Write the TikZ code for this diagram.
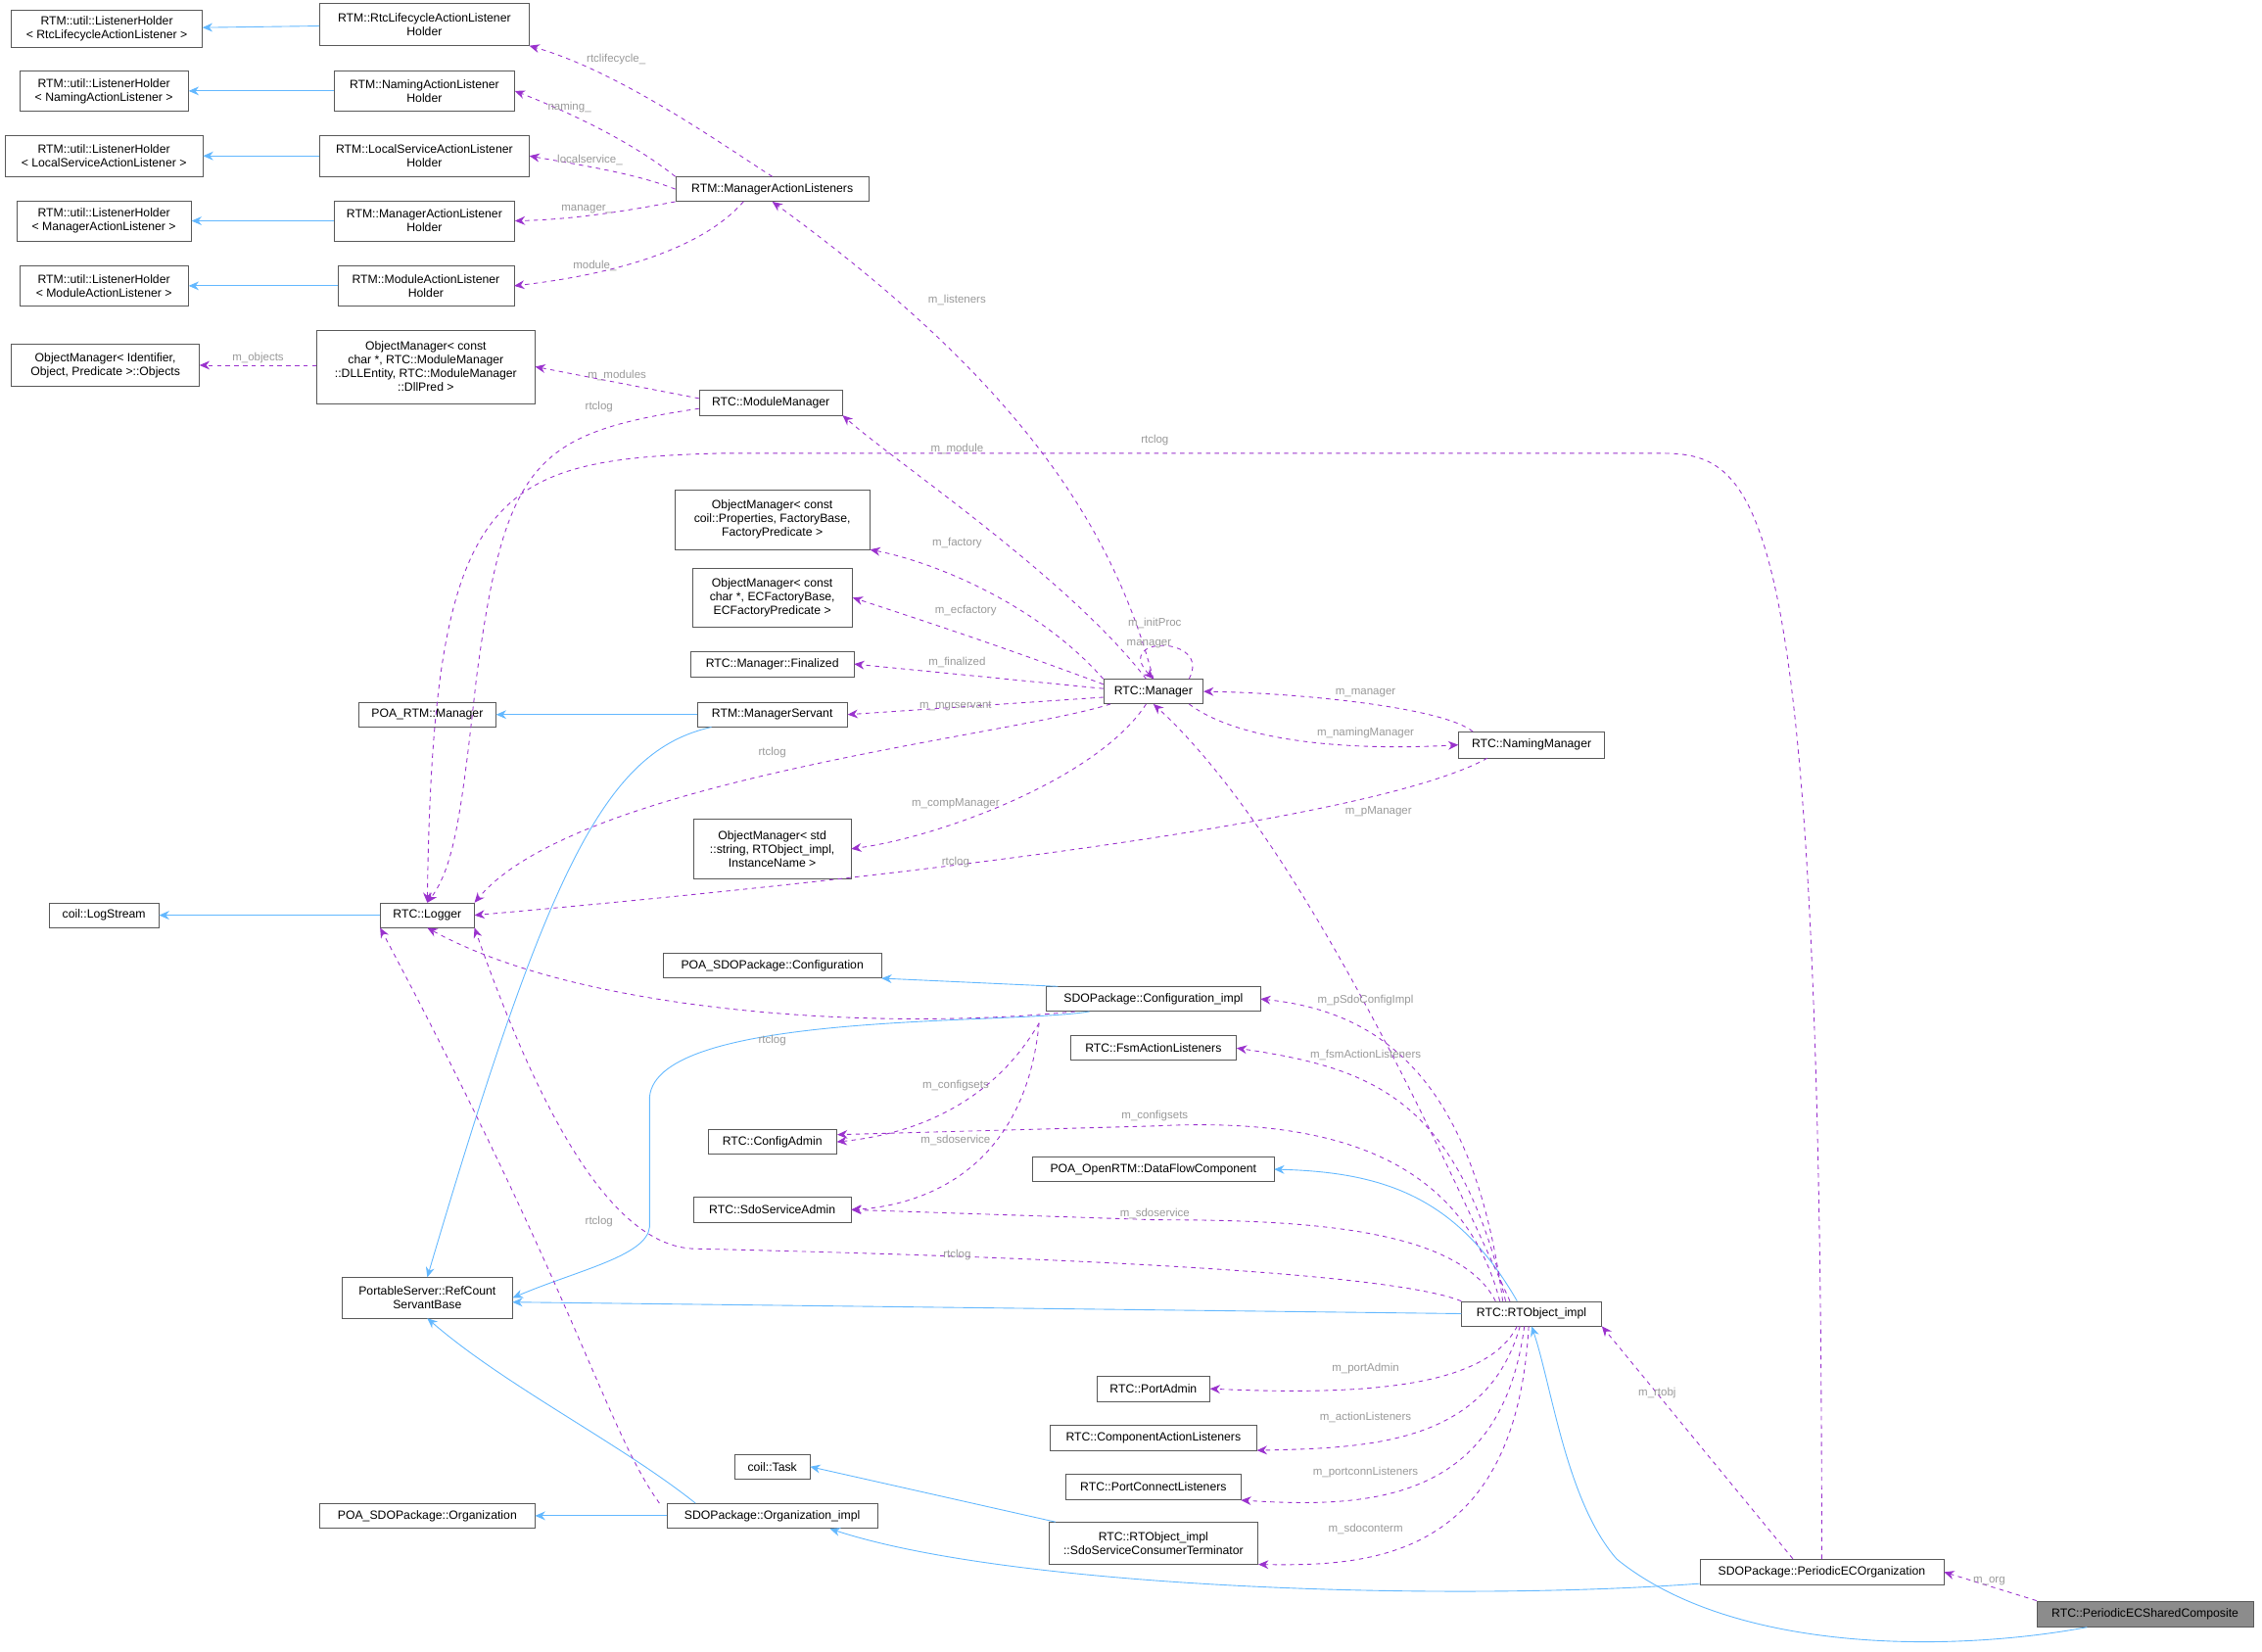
\documentclass[tikz,border=0pt]{standalone}
\usepackage{fontspec}
\setmainfont{Liberation Sans}
\usetikzlibrary{arrows.meta}
\definecolor{inhc}{HTML}{63B8FF}
\definecolor{usec}{HTML}{9A32CD}
\begin{document}
\begin{tikzpicture}[x=1pt,y=-1pt,
 box/.style={draw=black!65,fill=white,align=center,inner sep=1pt,font=\fontsize{8.3}{9.5}\selectfont},
 inh/.style={draw=inhc,-{Stealth[length=7pt,width=6pt]},line width=0.6pt},
 use/.style={draw=usec,dashed,-{Stealth[length=7pt,width=6pt]},line width=0.6pt},
 lbl/.style={text=black!40,font=\fontsize{7.8}{9}\selectfont,inner sep=1pt}]
\useasboundingbox (0,0) rectangle (1567,1144);
\newcommand{\bx}[6]{\node[box,minimum width=#4,minimum height=#5] (#1) at (#2,#3) {#6};}
\bx{L1}{74}{20}{132}{26}{RTM::util::ListenerHolder\\< RtcLifecycleActionListener >}
\bx{L2}{72}{63}{117}{28}{RTM::util::ListenerHolder\\< NamingActionListener >}
\bx{L3}{72}{108}{137}{28}{RTM::util::ListenerHolder\\< LocalServiceActionListener >}
\bx{L4}{72}{153}{121}{28}{RTM::util::ListenerHolder\\< ManagerActionListener >}
\bx{L5}{72}{198}{117}{28}{RTM::util::ListenerHolder\\< ModuleActionListener >}
\bx{H1}{294}{17}{145}{29}{RTM::RtcLifecycleActionListener\\Holder}
\bx{H2}{294}{63}{125}{28}{RTM::NamingActionListener\\Holder}
\bx{H3}{294}{108}{145}{28}{RTM::LocalServiceActionListener\\Holder}
\bx{H4}{294}{153}{125}{28}{RTM::ManagerActionListener\\Holder}
\bx{H5}{295}{198}{122}{28}{RTM::ModuleActionListener\\Holder}
\bx{MAL}{535}{131}{134}{17}{RTM::ManagerActionListeners}
\bx{OMobj}{73}{253}{130}{29}{ObjectManager< Identifier,\\ Object, Predicate >::Objects}
\bx{OMmod}{295}{254}{151}{51}{ObjectManager< const\\ char *, RTC::ModuleManager\\::DLLEntity, RTC::ModuleManager\\::DllPred >}
\bx{ModMgr}{534}{279}{99}{17}{RTC::ModuleManager}
\bx{OMfac}{535}{360}{135}{41}{ObjectManager< const\\ coil::Properties, FactoryBase,\\ FactoryPredicate >}
\bx{OMec}{535}{414}{111}{41}{ObjectManager< const\\ char *, ECFactoryBase,\\ ECFactoryPredicate >}
\bx{Fin}{535}{460}{113}{18}{RTC::Manager::Finalized}
\bx{POARTM}{296}{495}{95}{17}{POA\_RTM::Manager}
\bx{MgrServ}{535}{495}{104}{17}{RTM::ManagerServant}
\bx{Mgr}{799}{479}{69}{17}{RTC::Manager}
\bx{NamMgr}{1061}{516}{101}{18}{RTC::NamingManager}
\bx{OMcomp}{535}{588}{109}{41}{ObjectManager< std\\::string, RTObject\_impl,\\ InstanceName >}
\bx{LogStream}{72}{634}{76}{17}{coil::LogStream}
\bx{Logger}{296}{634}{65}{17}{RTC::Logger}
\bx{POASDOConf}{535}{669}{151}{17}{POA\_SDOPackage::Configuration}
\bx{ConfImpl}{799}{692}{148}{17}{SDOPackage::Configuration\_impl}
\bx{FsmAL}{799}{726}{115}{17}{RTC::FsmActionListeners}
\bx{ConfigAdmin}{535}{791}{89}{17}{RTC::ConfigAdmin}
\bx{POADFC}{799}{810}{167}{17}{POA\_OpenRTM::DataFlowComponent}
\bx{SdoSA}{535}{838}{109}{18}{RTC::SdoServiceAdmin}
\bx{RefCount}{296}{899}{118}{28}{PortableServer::RefCount\\ServantBase}
\bx{RTObj}{1061}{910}{97}{17}{RTC::RTObject\_impl}
\bx{PortAdmin}{799}{962}{78}{18}{RTC::PortAdmin}
\bx{CAL}{799}{996}{143}{17}{RTC::ComponentActionListeners}
\bx{PCL}{799}{1030}{121}{18}{RTC::PortConnectListeners}
\bx{Task}{535}{1016}{52}{17}{coil::Task}
\bx{SdoTerm}{799}{1069}{145}{29}{RTC::RTObject\_impl\\::SdoServiceConsumerTerminator}
\bx{POASDOOrg}{296}{1050}{149}{17}{POA\_SDOPackage::Organization}
\bx{OrgImpl}{535}{1050}{146}{17}{SDOPackage::Organization\_impl}
\bx{PerOrg}{1262}{1089}{169}{18}{SDOPackage::PeriodicECOrganization}
\node[box,fill=black!45,minimum width=150,minimum height=18] (Comp) at (1486,1118) {RTC::PeriodicECSharedComposite};
% inheritance
\foreach \i in {1,...,5}{\draw[inh] (H\i) -- (L\i);}
\draw[inh] (MgrServ) -- (POARTM);
\draw[inh] (MgrServ.south west) ++(10,0) .. controls (420,520) and (380,600) .. (RefCount.north);
\draw[inh] (Logger) -- (LogStream);
\draw[inh] (ConfImpl.north west) ++(8,0) -- (POASDOConf.south east);
\draw[inh] (ConfImpl.south west) ++(30,0) .. controls (700,710) and (455,700) .. (450,760) -- (450,850) .. controls (448,870) and (400,880) .. (RefCount.east);
\draw[inh] (RTObj.north) ++(-10,0) .. controls (1010,830) and (960,812) .. (POADFC.east);
\draw[inh] (RTObj.west) -- (355,902);
\draw[inh] (SdoTerm.north west) ++(5,0) -- (Task.east);
\draw[inh] (OrgImpl) -- (POASDOOrg);
\draw[inh] (OrgImpl.north west) ++(20,0) .. controls (430,1000) and (350,960) .. (RefCount.south);
\draw[inh] (PerOrg.west) ++(0,8) .. controls (1000,1110) and (700,1100) .. (575,1059);
\draw[inh] (Comp.south west) ++(35,0) .. controls (1350,1145) and (1200,1145) .. (1120,1080) .. controls (1085,1040) and (1075,960) .. (RTObj.south);
% usage
\draw[use] (MAL.north) .. controls (500,100) and (430,50) .. node[lbl,pos=0.8,above right]{rtclifecycle\_} (H1.south east);
\draw[use] (MAL.north west) .. controls (440,100) and (400,80) .. node[lbl,pos=0.7,above]{naming\_} (H2.east);
\draw[use] (MAL.west) .. controls (440,120) and (400,114) .. node[lbl,pos=0.6,above]{localservice\_} (H3.east);
\draw[use] (MAL.south west) .. controls (440,145) and (400,152) .. node[lbl,pos=0.6,above]{manager\_} (H4.east);
\draw[use] (MAL.south) ++(-20,0) .. controls (480,180) and (400,193) .. node[lbl,pos=0.65,above]{module\_} (H5.east);
\draw[use] (OMmod.west |- OMobj) -- node[lbl,above]{m\_objects} (OMobj.east);
\draw[use] (ModMgr.west) ++(0,-3) -- node[lbl,above]{m\_modules} (OMmod.east);
\draw[use] (ModMgr.west) ++(0,4) .. controls (370,300) and (350,320) .. (330,470) .. controls (320,560) and (315,600) .. (Logger.north) node[lbl] at (415,282){rtclog};
\draw[use] (PerOrg.north) .. controls (1262,340) and (1220,314) .. (1150,314) -- (500,314) .. controls (340,318) and (300,340) .. (Logger.north) node[lbl] at (800,305){rtclog};
\draw[use] (Mgr.north) .. controls (770,360) and (700,260) .. (MAL.south) node[lbl] at (663,208){m\_listeners};
\draw[use] (Mgr.north) ++(-5,0) .. controls (740,400) and (620,320) .. (ModMgr.south east) node[lbl] at (663,311){m\_module};
\draw[use] (Mgr.north west) .. controls (720,420) and (650,390) .. (OMfac.south east) node[lbl] at (663,376){m\_factory};
\draw[use] (Mgr.west) ++(0,-5) .. controls (700,450) and (640,430) .. (OMec.east) node[lbl] at (669,423){m\_ecfactory};
\draw[use] (Mgr.west) ++(0,-2) -- (Fin.east) node[lbl] at (663,459){m\_finalized};
\draw[use] (Mgr.west) ++(0,4) -- (MgrServ.east) node[lbl] at (662,489){m\_mgrservant};
\draw[use] (Mgr.north east) ++(-10,0) .. controls (840,440) and (770,440) .. (Mgr.north) node[lbl] at (800,432){m\_initProc} node[lbl] at (796,446){manager};
\draw[use] (Mgr.south east) ++(-10,0) .. controls (860,515) and (940,520) .. (NamMgr.west) node[lbl] at (946,508){m\_namingManager};
\draw[use] (NamMgr.north west) ++(10,0) .. controls (1000,490) and (900,480) .. (Mgr.east) node[lbl] at (946,480){m\_manager};
\draw[use] (Mgr.south west) ++(5,0) .. controls (700,510) and (400,540) .. (Logger.north east) node[lbl] at (535,521){rtclog};
\draw[use] (Mgr.south) ++(-5,0) .. controls (760,540) and (650,580) .. (OMcomp.east) node[lbl] at (662,557){m\_compManager};
\draw[use] (NamMgr.south west) ++(20,0) .. controls (950,570) and (600,610) .. (Logger.east) node[lbl] at (662,597){rtclog};
\draw[use] (RTObj.north) ++(-15,0) .. controls (1000,800) and (900,580) .. (Mgr.south) node[lbl] at (955,562){m\_pManager};
\draw[use] (ConfImpl.south west) ++(20,0) .. controls (600,715) and (400,700) .. (Logger.south) node[lbl] at (535,721){rtclog};
\draw[use] (ConfImpl.south west) ++(-5,8) .. controls (690,760) and (640,785) .. (ConfigAdmin.east) node[lbl] at (662,752){m\_configsets};
\draw[use] (ConfImpl.south west) ++(-5,8) .. controls (710,810) and (640,835) .. (SdoSA.east) node[lbl] at (662,790){m\_sdoservice};
\draw[use] (RTObj.north) ++(-20,0) .. controls (1020,740) and (950,700) .. (ConfImpl.east) node[lbl] at (946,693){m\_pSdoConfigImpl};
\draw[use] (RTObj.north) ++(-18,0) .. controls (1010,760) and (950,740) .. (FsmAL.east) node[lbl] at (946,731){m\_fsmActionListeners};
\draw[use] (RTObj.north) ++(-22,0) .. controls (1010,790) and (900,775) .. (800,780) -- (580,786) node[lbl] at (800,773){m\_configsets};
\draw[use] (RTObj.north) ++(-25,0) .. controls (1010,850) and (900,845) .. (800,845) -- (SdoSA.east) node[lbl] at (800,841){m\_sdoservice};
\draw[use] (RTObj.north west) .. controls (960,880) and (700,870) .. (480,865) .. controls (420,862) and (370,760) .. (Logger.south east) node[lbl] at (663,869){rtclog};
\draw[use] (RTObj.south) ++(-10,0) .. controls (1030,960) and (950,967) .. (PortAdmin.east) node[lbl] at (946,948){m\_portAdmin};
\draw[use] (RTObj.south) ++(-8,0) .. controls (1030,1000) and (950,1003) .. (CAL.south east) node[lbl] at (946,982){m\_actionListeners};
\draw[use] (RTObj.south) ++(-5,0) .. controls (1040,1040) and (950,1045) .. (PCL.south east) node[lbl] at (946,1020){m\_portconnListeners};
\draw[use] (RTObj.south) ++(-2,0) .. controls (1050,1080) and (950,1085) .. (SdoTerm.south east) node[lbl] at (946,1059){m\_sdoconterm};
\draw[use] (OrgImpl.north west) ++(-5,0) .. controls (420,990) and (400,900) .. (Logger.south west) node[lbl] at (415,846){rtclog};
\draw[use] (PerOrg.north) ++(-20,0) -- (RTObj.south east) node[lbl] at (1148,965){m\_rtobj};
\draw[use] (Comp.north west) -- (PerOrg.east) node[lbl] at (1378,1095){m\_org};
\end{tikzpicture}
\end{document}
